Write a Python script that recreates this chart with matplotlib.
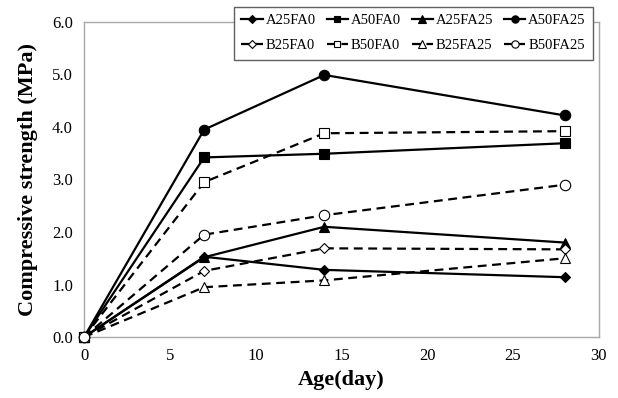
import matplotlib.pyplot as plt

plt.rcParams.update({
    "font.family": "Liberation Serif",
    "font.size": 11,
})

# ---- data ----
age = [0, 7, 14, 28]
names = ["A25FA0", "A50FA0", "A25FA25", "A50FA25",
         "B25FA0", "B50FA0", "B25FA25", "B50FA25"]
a25fa0 = [0, 1.53, 1.28, 1.14]
a50fa0 = [0, 3.42, 3.49, 3.69]
a25fa25 = [0, 1.52, 2.10, 1.80]
a50fa25 = [0, 3.95, 4.99, 4.22]
b25fa0 = [0, 1.26, 1.69, 1.67]
b50fa0 = [0, 2.95, 3.88, 3.92]
b25fa25 = [0, 0.95, 1.08, 1.50]
b50fa25 = [0, 1.95, 2.32, 2.90]
series = [a25fa0, a50fa0, a25fa25, a50fa25, b25fa0, b50fa0, b25fa25, b50fa25]

markers = ["D", "s", "^", "o", "D", "s", "^", "o"]
msizes = [5.5, 7, 7.5, 7.5, 5.5, 7, 7.5, 7.5]

fig = plt.figure(figsize=(6.18, 3.98), dpi=100)
ax = fig.add_axes([0.136, 0.153, 0.833, 0.792])

handles = []
for i, (nm, ys) in enumerate(zip(names, series)):
    filled = nm.startswith("A")
    h, = ax.plot(age, ys,
                 color="black", linewidth=1.6,
                 linestyle="-" if filled else (0, (4, 2.5)),
                 marker=markers[i], markersize=msizes[i],
                 markerfacecolor="black" if filled else "white",
                 markeredgecolor="black", markeredgewidth=0.8,
                 label=nm, zorder=3, clip_on=False)
    handles.append(h)

ax.set_xlim(0, 30)
ax.set_ylim(0, 6)
ax.set_xticks(range(0, 31, 5))
ax.set_yticks([0, 1, 2, 3, 4, 5, 6])
ax.set_yticklabels([f"{v:.1f}" for v in range(7)])
ax.tick_params(length=0, pad=8, labelsize=12)
for s in ax.spines.values():
    s.set_color("#a8a8a8")
    s.set_linewidth(1.0)

ax.set_xlabel("Age(day)", fontsize=16, fontweight="bold", labelpad=4)
ax.set_ylabel("Compressive strength (MPa)", fontsize=16, fontweight="bold", labelpad=10)

# legend filled row by row (matplotlib fills by column)
order = [0, 4, 1, 5, 2, 6, 3, 7]
leg = ax.legend([handles[k] for k in order], [names[k] for k in order],
                ncol=4, loc="upper right",
                bbox_to_anchor=(593 / 618, 1 - 7 / 398),
                bbox_transform=fig.transFigure, borderaxespad=0,
                frameon=True, fancybox=False, edgecolor="#606060",
                framealpha=1, fontsize=10.5, handlelength=1.45,
                handletextpad=0.2, columnspacing=0.75, markerscale=0.7,
                borderpad=0.5, labelspacing=0.8)
leg.get_frame().set_linewidth(1.0)
leg.set_zorder(5)

fig.savefig("out.png", dpi=100)
